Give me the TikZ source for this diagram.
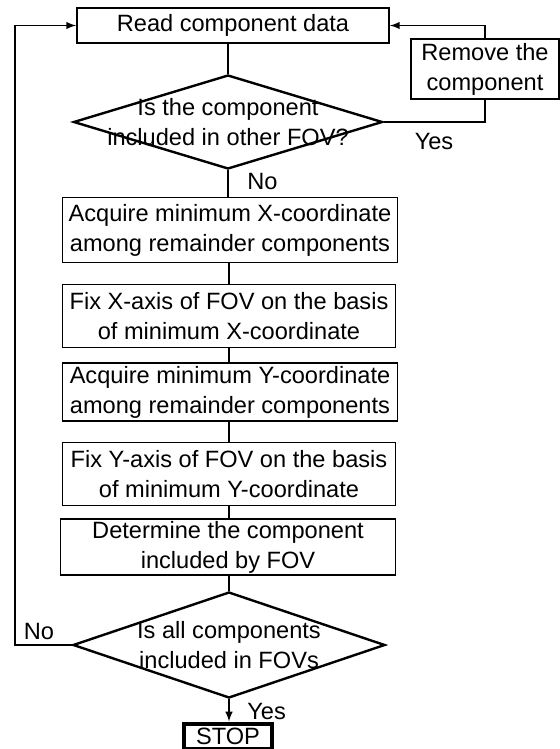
\documentclass[tikz,border=0pt]{standalone}
\usepackage{fontspec}
\setmainfont{Liberation Sans}
\usetikzlibrary{shapes.geometric}

\begin{document}
\begin{tikzpicture}[x=0.5pt, y=-0.5pt, >=latex, line width=0.7pt]

  \tikzstyle{S}=[rectangle, draw, line width=0.9pt, align=center, inner sep=1pt, font=\fontsize{11.8}{15}\selectfont]
  \tikzstyle{D}=[diamond, draw, line width=1.2pt, inner sep=0pt]
  \tikzstyle{L}=[font=\fontsize{11.8}{15}\selectfont]

  \useasboundingbox (0,0) rectangle (560,749);

  \node[S, minimum width=156pt, minimum height=17.5pt] at (233,25.5) (read) {Read component data};
  \node[S, minimum width=74pt, minimum height=30pt] at (485,69) (remove) {Remove the\\component};

  \node[D, minimum width=154.5pt, minimum height=47pt,
    label={[L, align=center]center:Is the component\\included in other FOV?}] at (228,122) (dia1) {};

  \node[S, minimum width=167.5pt, minimum height=32.5pt] at (230,230) (acqx) {Acquire minimum X-coordinate\\among remainder components};
  \node[S, minimum width=166.5pt, minimum height=31.5pt] at (229,316) (fixx) {Fix X-axis of FOV on the basis\\of minimum X-coordinate};
  \node[S, minimum width=167.5pt, minimum height=29pt] at (230,392) (acqy) {Acquire minimum Y-coordinate\\among remainder components};
  \node[S, minimum width=166.5pt, minimum height=31.5pt] at (229,474) (fixy) {Fix Y-axis of FOV on the basis\\of minimum Y-coordinate};
  \node[S, minimum width=167.5pt, minimum height=27.5pt] at (228,547) (det) {Determine the component\\included by FOV};

  \node[D, minimum width=156pt, minimum height=53pt,
    label={[L, align=center]center:Is all components\\included in FOVs}] at (229,645) (dia2) {};

  \node[S, line width=2pt, minimum width=44pt, minimum height=12.5pt, inner sep=0pt] at (228,736) (stop) {STOP};

  \node[L, anchor=west] at (240,181) (no1) {No};
  \node[L] at (434,141) (yes1) {Yes};
  \node[L] at (39,631) (no2) {No};
  \node[L, anchor=west] at (240,711) (yes2) {Yes};

  \draw [] (dia1.north) to (dia1.north |- read.south);
  \draw [] (dia1.south) to (dia1.south |- acqx.north);
  \draw [] (acqx.south -| fixx.north) to (fixx.north);
  \draw [] (fixx.south) to (fixx.south |- acqy.north);
  \draw [] (acqy.south -| fixy.north) to (fixy.north);
  \draw [] (fixy.south) to (fixy.south |- det.north);
  \draw [] (det.south -| dia2.north) to (dia2.north);
  \draw [->] (dia2.south) to (dia2.south |- stop.north);

  \draw [] (dia1.east) -| (remove.south);
  \draw [->] (remove.north) |- (read.east);
  \draw [->] (dia2.west) -- ++(-57,0) |- (read.west);

\end{tikzpicture}
\end{document}
